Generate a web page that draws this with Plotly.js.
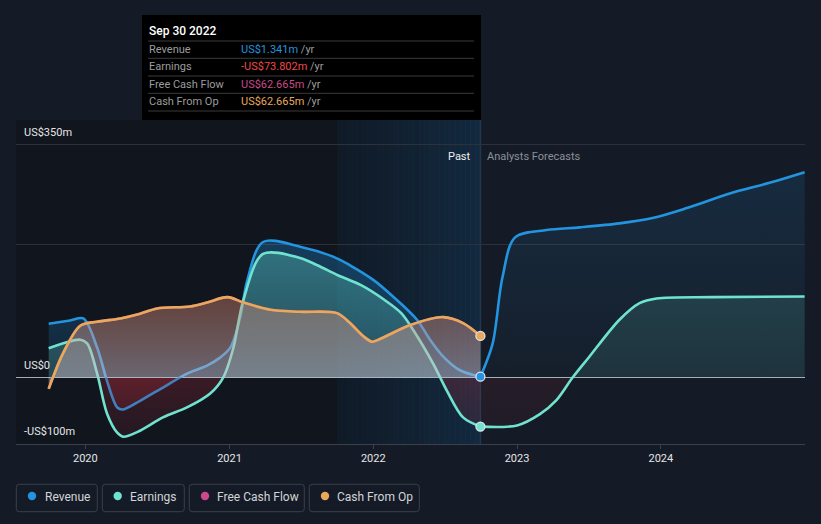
<!DOCTYPE html>
<html><head><meta charset="utf-8">
<script src="https://cdn.plot.ly/plotly-3.0.1.min.js"></script>
<style>html,body{margin:0;padding:0;background:#151b26;}#chart{width:821px;height:524px;}</style>
</head><body><div id="chart"></div>
<script>
// ---------- data (US$ m) ----------
const revenuePastDates = ['2019-09-30','2019-11-23','2019-12-27','2020-01-31','2020-02-25','2020-03-22','2020-04-06','2020-05-19','2020-07-16','2020-09-15','2020-11-05','2020-12-08','2021-01-03','2021-01-28','2021-02-15','2021-03-27','2021-06-29','2021-09-21','2021-11-03','2022-01-01','2022-02-20','2022-04-22','2022-05-25','2022-06-27','2022-08-09','2022-09-30'];
const revenuePast = [81,86,89,45,-5,-45,-48,-35,-15,6,18,30,45,90,146,204,197,182,169,147,122,87,57,32,11,1.341];

const earningsPastDates = ['2019-09-30','2019-12-19','2020-01-06','2020-01-31','2020-02-25','2020-03-22','2020-04-06','2020-05-19','2020-07-16','2020-09-15','2020-11-13','2020-12-16','2021-01-11','2021-02-05','2021-03-27','2021-06-29','2021-08-12','2021-10-03','2021-12-01','2022-01-29','2022-03-13','2022-04-12','2022-06-02','2022-07-07','2022-08-17','2022-09-30'];
const earningsPast = [44,57,51,6,-54,-83,-89,-80,-60,-45,-24,0,45,116,186,180,169,154,139,117,97,72,21,-20,-60,-73.802];

const cashPastDates = ['2019-09-30','2019-11-05','2019-12-19','2020-01-31','2020-03-30','2020-05-19','2020-07-01','2020-09-23','2020-11-05','2020-12-27','2021-02-05','2021-04-15','2021-06-29','2021-10-01','2021-11-03','2021-12-07','2021-12-29','2022-01-18','2022-04-05','2022-06-27','2022-08-17','2022-09-30'];
const fcfPast = [-17,36,78,84,89,96,104,107,113,121,113,102,99,97,82,62,54,58,79,91,82,62.665];
const cfoPast = [-17,36,78,84,89,96,104,107,113,121,113,102,99,97,82,62,54,58,79,91,82,62.665];

const revenueFcDates = ['2022-09-30','2022-10-31','2022-11-25','2022-12-27','2023-03-17','2023-06-09','2023-09-18','2023-12-11','2024-03-07','2024-06-24','2024-10-03','2024-12-31'];
const revenueFc = [1.341,51,151,211,222,226,232,240,255,277,293,309];

const earningsFcDates = ['2022-09-30','2023-01-01','2023-02-28','2023-04-11','2023-05-22','2023-07-03','2023-09-18','2023-11-08','2023-12-21','2024-05-12','2024-12-31'];
const earningsFc = [-73.802,-72,-55,-34,0,31,87,112,119,121,122];

const yearTicks = ['2020-01-01','2021-01-01','2022-01-01','2023-01-01','2024-01-01'];
const yearLabels = ['2020','2021','2022','2023','2024'];
const yLabelVals = [350,0,-100];
const yLabelText = ['US$350m','US$0','-US$100m'];
const gridVals = [-100,0,200,350];

const seriesNames = ['Revenue','Earnings','Free Cash Flow','Cash From Op'];
const seriesColors = ['#2394df','#6fe3cf','#c9498a','#e8a95b'];
const tipDate = 'Sep 30 2022';
const tipValues = ['US$1.341m','-US$73.802m','US$62.665m','US$62.665m'];
const tipValueColors = ['#2394df','#f04848','#c9498a','#e8a95b'];

// ---------- helpers ----------
const Y0 = -100, Y1 = 350, Z = (0 - Y0) / (Y1 - Y0);
function grad(stops){ return {type:'vertical', start:Y0, stop:Y1, colorscale:stops}; }
const line = (c)=>({color:c, width:2.6, shape:'spline', smoothing:0.9});

const traces = [
  {x:revenuePastDates, y:revenuePast, mode:'lines', line:line(seriesColors[0]), fill:'tozeroy',
   fillgradient:grad([[0,'rgba(190,45,60,0.06)'],[Z,'rgba(190,45,60,0.26)'],[Z+0.0001,'rgba(35,148,223,0.12)'],[0.62,'rgba(35,148,223,0.30)'],[1,'rgba(35,148,223,0.30)']])},
  {x:earningsPastDates, y:earningsPast, mode:'lines', line:line(seriesColors[1]), fill:'tozeroy',
   fillgradient:grad([[0,'rgba(190,45,60,0.10)'],[Z,'rgba(190,45,60,0.24)'],[Z+0.0001,'rgba(110,231,209,0.18)'],[0.62,'rgba(110,231,209,0.30)'],[1,'rgba(110,231,209,0.30)']])},
  {x:cashPastDates, y:fcfPast, mode:'lines', line:line(seriesColors[2]), fill:'tozeroy',
   fillgradient:grad([[0,'rgba(201,73,138,0.10)'],[1,'rgba(201,73,138,0.12)']])},
  {x:cashPastDates, y:cfoPast, mode:'lines', line:line(seriesColors[3]), fill:'tozeroy',
   fillgradient:grad([[0,'rgba(160,60,60,0.15)'],[Z,'rgba(215,215,220,0.40)'],[0.5,'rgba(220,140,95,0.34)'],[1,'rgba(220,140,95,0.34)']])},
  {x:revenueFcDates, y:revenueFc, mode:'lines', line:line(seriesColors[0]), fill:'tozeroy',
   fillgradient:grad([[0,'rgba(190,45,60,0.05)'],[Z,'rgba(190,45,60,0.05)'],[Z+0.0001,'rgba(35,148,223,0.03)'],[1,'rgba(35,148,223,0.15)']])},
  {x:earningsFcDates, y:earningsFc, mode:'lines', line:line(seriesColors[1]), fill:'tozeroy',
   fillgradient:grad([[0,'rgba(190,45,60,0.05)'],[Z,'rgba(190,45,60,0.10)'],[Z+0.0001,'rgba(110,231,209,0.10)'],[0.5,'rgba(110,231,209,0.14)'],[1,'rgba(110,231,209,0.14)']])},
  {x:[revenuePastDates.at(-1), earningsPastDates.at(-1), cashPastDates.at(-1)],
   y:[revenuePast.at(-1), earningsPast.at(-1), cfoPast.at(-1)], mode:'markers',
   marker:{size:9, color:[seriesColors[0],seriesColors[1],seriesColors[3]], line:{color:'#dfe3e8', width:1.3}}}
];

// ---------- layout decorations ----------
const L = 16, R = 805, T = 120, B = 444;
const px = v => (v - L) / (R - L);
const py = v => (B - v) / (B - T);
const shapes = [];
const annotations = [];

// darker past backdrop
shapes.push({type:'rect', layer:'below', xref:'x', yref:'paper', x0:'2019-07-01', x1:'2022-09-30', y0:0, y1:1, line:{width:0}, fillcolor:'rgba(0,0,0,0.2)'});
// highlight gradient for last year of past
const hStart = Date.UTC(2021,9,1), hEnd = Date.UTC(2022,8,30), steps = 28;
for (let i = 0; i < steps; i++) {
  const t = (i + 0.5) / steps;
  const a0 = hStart + (hEnd - hStart) * i / steps, a1 = hStart + (hEnd - hStart) * (i + 1) / steps + 86400000;
  shapes.push({type:'rect', layer:'below', xref:'x', yref:'paper', x0:new Date(a0).toISOString().slice(0,10), x1:new Date(Math.min(a1,hEnd)).toISOString().slice(0,10), y0:0, y1:1, line:{width:0},
    fillcolor:'rgba(30,110,170,' + (0.07 + 0.16 * Math.pow(t, 1.2)).toFixed(3) + ')'});
}
// past/forecast divider
shapes.push({type:'line', layer:'below', xref:'x', yref:'paper', x0:'2022-09-30', x1:'2022-09-30', y0:0, y1:1, line:{color:'#1f3850', width:1.5}});

// y labels
yLabelVals.forEach((v,i)=>annotations.push({xref:'paper', yref:'y', x:0, y:v, xanchor:'left', yanchor:'middle', xshift:6, yshift:12.5, showarrow:false, text:yLabelText[i], font:{family:'Roboto, sans-serif', size:11, color:'#e6e6e6'}}));

// Past / Analysts Forecasts
annotations.push({xref:'x', yref:'paper', x:'2022-09-30', y:py(156), xanchor:'right', yanchor:'middle', xshift:-7, showarrow:false, text:'Past', font:{family:'Roboto, sans-serif', size:11, color:'#f0f0f0'}});
annotations.push({xref:'x', yref:'paper', x:'2022-09-30', y:py(156), xanchor:'left', yanchor:'middle', xshift:5, showarrow:false, text:'Analysts Forecasts', font:{family:'Roboto, sans-serif', size:11, color:'#8a909a'}});

// tooltip
shapes.push({type:'rect', layer:'above', xref:'paper', yref:'paper', x0:px(142), x1:px(481), y0:py(120), y1:py(15), line:{width:0}, fillcolor:'#000000'});
[41,58.3,76,93.3,111].forEach(v=>shapes.push({type:'line', layer:'above', xref:'paper', yref:'paper', x0:px(148), x1:px(474), y0:py(v), y1:py(v), line:{color:'#3a3a3c', width:1}}));
annotations.push({xref:'paper', yref:'paper', x:px(147), y:py(31), xanchor:'left', yanchor:'middle', showarrow:false, text:tipDate, font:{family:'Roboto, sans-serif', size:12, color:'#ffffff', weight:500}});
const rowY = [49.3,66.7,84.3,101.7];
seriesNames.forEach((n,i)=>{
  annotations.push({xref:'paper', yref:'paper', x:px(147), y:py(rowY[i]), xanchor:'left', yanchor:'middle', showarrow:false, text:n, font:{family:'Roboto, sans-serif', size:11, color:'#9c9c9c'}});
  annotations.push({xref:'paper', yref:'paper', x:px(239), y:py(rowY[i]), xanchor:'left', yanchor:'middle', showarrow:false,
    text:'<span style="color:'+tipValueColors[i]+'">'+tipValues[i]+'</span> /yr', font:{family:'Roboto, sans-serif', size:11, color:'#9c9c9c'}});
});

// legend boxes
const legBoxes = [[16.3,97.3],[102.3,184.3],[189.3,304.3],[309.3,419.3]];
const legDot = [32,117.7,205,325];
const legText = [42.5,128.2,215.2,335.2];
function rrect(x0,x1,y0,y1,r){
  const a=px(x0), b=px(x1), c=py(y1), d=py(y0);
  const rx=r/(R-L), ry=r/(B-T);
  return `M ${a+rx},${d} L ${b-rx},${d} Q ${b},${d} ${b},${d-ry} L ${b},${c+ry} Q ${b},${c} ${b-rx},${c} L ${a+rx},${c} Q ${a},${c} ${a},${c+ry} L ${a},${d-ry} Q ${a},${d} ${a+rx},${d} Z`;
}
seriesNames.forEach((n,i)=>{
  shapes.push({type:'path', xref:'paper', yref:'paper', path:rrect(legBoxes[i][0],legBoxes[i][1],484.3,511.7,3), line:{color:'#3a404b', width:1}, fillcolor:'rgba(0,0,0,0)'});
  shapes.push({type:'circle', xref:'paper', yref:'paper', xsizemode:'pixel', ysizemode:'pixel', xanchor:px(legDot[i]), yanchor:py(496), x0:-4.2, x1:4.2, y0:-4.2, y1:4.2, line:{width:0}, fillcolor:seriesColors[i]});
  annotations.push({xref:'paper', yref:'paper', x:px(legText[i]), y:py(496.5), xanchor:'left', yanchor:'middle', showarrow:false, text:n, font:{family:'Roboto, sans-serif', size:12, color:'#d2d4d8'}});
});

const layout = {
  width:821, height:524,
  margin:{l:L, r:821-R, t:T, b:524-B, pad:0},
  paper_bgcolor:'#151b26', plot_bgcolor:'#151b26',
  showlegend:false, hovermode:false,
  font:{family:'Roboto, sans-serif'},
  xaxis:{type:'date', range:['2019-07-09','2025-01-01'], tickvals:yearTicks, ticktext:yearLabels,
    showgrid:false, zeroline:false, showline:true, linecolor:'#3b414b', linewidth:1.2,
    ticks:'outside', ticklen:4, tickcolor:'#3b414b', tickfont:{size:11, color:'#e6e6e6'}},
  yaxis:{range:[-100,387.6], tickvals:gridVals, showticklabels:false, showgrid:true, gridcolor:'#2c323c', gridwidth:1,
    zeroline:true, zerolinecolor:'#a9adb3', zerolinewidth:1.5, fixedrange:true},
  shapes:shapes, annotations:annotations
};

Plotly.newPlot('chart', traces, layout, {displayModeBar:false, staticPlot:true});
</script>
</body></html>
